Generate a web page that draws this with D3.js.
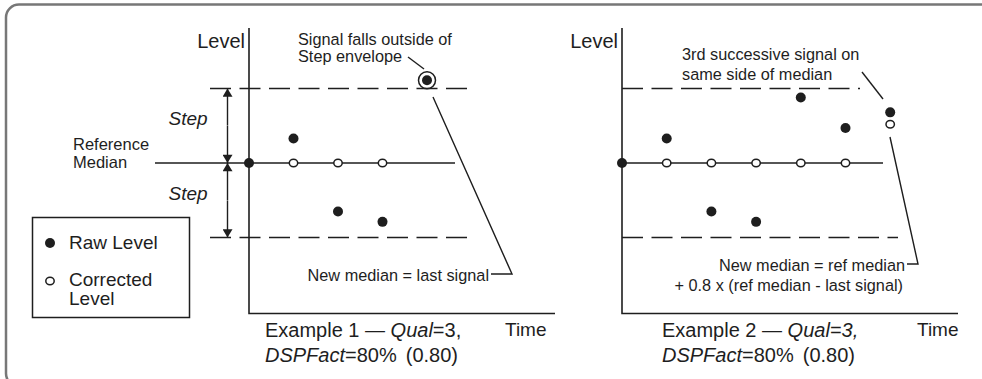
<!DOCTYPE html>
<html>
<head>
<meta charset="utf-8">
<script src="https://cdn.jsdelivr.net/npm/d3@7"></script>
<style>
  html, body { margin: 0; padding: 0; background: #fff; overflow: hidden; }
  svg { display: block; font-family: "Liberation Sans", Arial, sans-serif; }
  text { fill: #1e1e1e; }
</style>
</head>
<body>
<svg width="982" height="379"></svg>
<script>
// levels are in "step" units: median = 0, step envelope = +/-1
const ex1Times = [0, 1, 2, 3, 4];
const ex1Raw = [0, 0.33, -0.65, -0.79, 1.11];
const ex1Corrected = [null, 0, 0, 0, null];

const ex2Times = [0, 1, 2, 3, 4, 5, 6];
const ex2Raw = [0, 0.33, -0.65, -0.79, 0.88, 0.47, 0.68];
const ex2Corrected = [null, 0, 0, 0, 0, 0, 0.52];

const medianLevel = 0;
const stepLevels = [1, -1];
const outlierIndex = 4; // ex1 signal outside step envelope

const legendLabels = [['Raw Level'], ['Corrected', 'Level']];

const svg = d3.select('svg');
const ink = '#1e1e1e';

// frame
svg.append('rect')
   .attr('x', 6).attr('y', 4.5)
   .attr('width', 1100).attr('height', 382)
   .attr('rx', 13)
   .attr('fill', 'none')
   .attr('stroke', '#777')
   .attr('stroke-width', 2.5);

const y = d3.scaleLinear().domain([-1, 1]).range([237.5, 88.5]);

// panel layout (pixels)
const panels = [
  { times: ex1Times, raw: ex1Raw, corr: ex1Corrected,
    x0: 249, dx: 44.5, axisEnd: 555,
    median: [155, 455], upper: [210, 470], lower: [210, 470] },
  { times: ex2Times, raw: ex2Raw, corr: ex2Corrected,
    x0: 622, dx: 44.7, axisEnd: 958,
    median: [622, 883], upper: [622, 860], lower: [622, 898] }
];

panels.forEach((p, pi) => {
  const x = d3.scaleLinear().domain([0, 1]).range([p.x0, p.x0 + p.dx]);
  p.x = x;
  const g = svg.append('g');

  // step envelope
  [[stepLevels[0], p.upper], [stepLevels[1], p.lower]].forEach(([lv, ext]) => {
    g.append('line')
     .attr('x1', ext[0]).attr('x2', ext[1])
     .attr('y1', y(lv)).attr('y2', y(lv))
     .attr('stroke', ink).attr('stroke-width', 1.5)
     .attr('stroke-dasharray', '21,8.5');
  });
  // reference median
  g.append('line')
   .attr('x1', p.median[0]).attr('x2', p.median[1])
   .attr('y1', y(medianLevel)).attr('y2', y(medianLevel))
   .attr('stroke', ink).attr('stroke-width', 1.5);

  // axes
  g.append('path')
   .attr('d', `M${x(0)},28V313.5H${p.axisEnd}`)
   .attr('fill', 'none').attr('stroke', ink).attr('stroke-width', 1.6);

  g.append('text').attr('x', x(0) - 4).attr('y', 48)
   .attr('text-anchor', 'end').attr('font-size', 20).text('Level');
  g.append('text').attr('x', pi === 0 ? 505 : 917).attr('y', 336)
   .attr('font-size', 19).text('Time');

  // corrected (open) points
  g.selectAll('.corr')
   .data(p.times.filter((t, i) => p.corr[i] != null))
   .join('ellipse')
   .attr('cx', t => x(t)).attr('cy', t => y(p.corr[t]))
   .attr('rx', 4.2).attr('ry', 3.8)
   .attr('fill', '#fff').attr('stroke', ink).attr('stroke-width', 1.5);

  // raw (filled) points
  g.selectAll('.raw')
   .data(p.times)
   .join('circle')
   .attr('cx', t => x(t)).attr('cy', t => y(p.raw[t]))
   .attr('r', 5).attr('fill', ink);
});

// ---- example 1 extras ----
const p1 = panels[0];
svg.append('circle')
   .attr('cx', p1.x(outlierIndex)).attr('cy', y(ex1Raw[outlierIndex]))
   .attr('r', 8.5).attr('fill', 'none').attr('stroke', ink).attr('stroke-width', 1.5);

// step arrows
const defs = svg.append('defs');
defs.append('marker')
    .attr('id', 'ah').attr('viewBox', '0 0 10 12')
    .attr('refX', 10).attr('refY', 6)
    .attr('markerUnits', 'userSpaceOnUse')
    .attr('markerWidth', 11).attr('markerHeight', 10)
    .attr('orient', 'auto')
  .append('path').attr('d', 'M0,0L10,6L0,12Z').attr('fill', ink);

const arrowX = 227.5;
[[y(0) - 0.5, y(1)], [y(1), y(0)], [y(0) + 0.5, y(-1)], [y(-1), y(0)]].forEach(([a, b]) => {
  svg.append('line')
     .attr('x1', arrowX).attr('x2', arrowX)
     .attr('y1', (a + b) / 2).attr('y2', b)
     .attr('stroke', ink).attr('stroke-width', 1.4)
     .attr('marker-end', 'url(#ah)');
});

svg.append('text').attr('x', 188).attr('y', 125).attr('text-anchor', 'middle')
   .attr('font-size', 19).attr('font-style', 'italic').text('Step');
svg.append('text').attr('x', 188).attr('y', 200).attr('text-anchor', 'middle')
   .attr('font-size', 19).attr('font-style', 'italic').text('Step');

const refMed = svg.append('text').attr('font-size', 16.5);
refMed.append('tspan').attr('x', 73).attr('y', 150).text('Reference');
refMed.append('tspan').attr('x', 73).attr('y', 168).text('Median');

const ann1 = svg.append('text').attr('font-size', 16.3);
ann1.append('tspan').attr('x', 298).attr('y', 45).text('Signal falls outside of');
ann1.append('tspan').attr('x', 298).attr('y', 62).text('Step envelope');

svg.append('path').attr('d', 'M408,57L424,69')
   .attr('stroke', ink).attr('stroke-width', 1.4).attr('fill', 'none');
svg.append('path').attr('d', 'M433,97L512,274H491')
   .attr('stroke', ink).attr('stroke-width', 1.4).attr('fill', 'none');
svg.append('text').attr('x', 489).attr('y', 281).attr('text-anchor', 'end')
   .attr('font-size', 16.3).text('New median = last signal');

// ---- example 2 extras ----
const ann2 = svg.append('text').attr('font-size', 16.3);
ann2.append('tspan').attr('x', 682).attr('y', 60).text('3rd successive signal on');
ann2.append('tspan').attr('x', 682).attr('y', 80).text('same side of median');

svg.append('path').attr('d', 'M862,72L883,99')
   .attr('stroke', ink).attr('stroke-width', 1.4).attr('fill', 'none');
svg.append('path').attr('d', 'M890,137L918,264H907')
   .attr('stroke', ink).attr('stroke-width', 1.4).attr('fill', 'none');
const ann3 = svg.append('text').attr('font-size', 16.3).attr('text-anchor', 'end');
ann3.append('tspan').attr('x', 905).attr('y', 271).text('New median = ref median');
ann3.append('tspan').attr('x', 903).attr('y', 291).text('+ 0.8 x (ref median - last signal)');

// ---- captions ----
function caption(x0, num, qualItalicAll) {
  const t1 = svg.append('text').attr('x', x0).attr('y', 337).attr('font-size', 20);
  t1.append('tspan').text(`Example ${num} \u2014 `);
  t1.append('tspan').attr('font-style', 'italic').text(qualItalicAll ? 'Qual=3,' : 'Qual');
  if (!qualItalicAll) t1.append('tspan').text('=3,');
  const t2 = svg.append('text').attr('x', x0).attr('y', 362).attr('font-size', 20);
  t2.append('tspan').attr('font-style', 'italic').text('DSPFact');
  t2.append('tspan').text('=80%');
  t2.append('tspan').attr('dx', 9).text('(0.80)');
}
caption(265, 1, false);
caption(662, 2, true);

// ---- legend ----
svg.append('rect').attr('x', 32.5).attr('y', 217.5).attr('width', 157).attr('height', 100)
   .attr('fill', 'none').attr('stroke', ink).attr('stroke-width', 1.5);
svg.append('circle').attr('cx', 50).attr('cy', 243).attr('r', 5).attr('fill', ink);
svg.append('ellipse').attr('cx', 50).attr('cy', 281).attr('rx', 4.2).attr('ry', 3.8)
   .attr('fill', '#fff').attr('stroke', ink).attr('stroke-width', 1.5);
const lg = svg.append('text').attr('font-size', 19);
lg.append('tspan').attr('x', 69).attr('y', 249).text(legendLabels[0][0]);
lg.append('tspan').attr('x', 69).attr('y', 286).text(legendLabels[1][0]);
lg.append('tspan').attr('x', 69).attr('y', 305).text(legendLabels[1][1]);
</script>
</body>
</html>
